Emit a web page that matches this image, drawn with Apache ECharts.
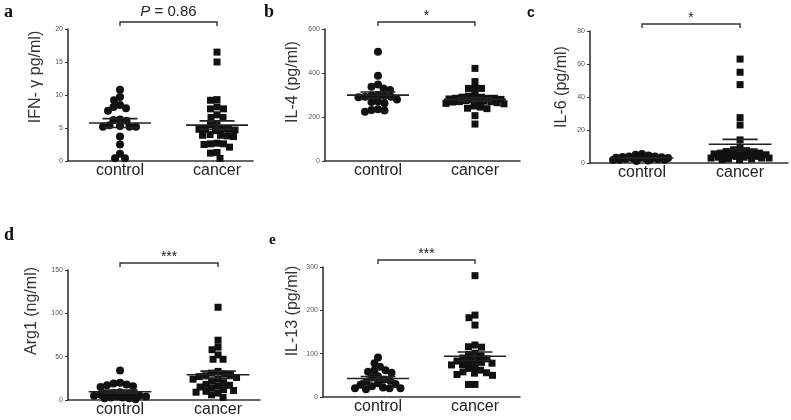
<!DOCTYPE html>
<html><head><meta charset="utf-8">
<script src="https://cdn.jsdelivr.net/npm/echarts@6/dist/echarts.min.js"></script>
<style>html,body{margin:0;padding:0;background:#fff}#c{width:791px;height:420px}</style>
</head><body><div id="c"></div>
<script>
const categories = ['control', 'cancer'];

// a: IFN-gamma
const aControl = [10.8, 9.7, 9.2, 8.5, 8.2, 8.0, 7.6, 6.3, 6.2, 6.1, 5.3, 5.2, 5.2, 5.2, 5.4, 3.7, 2.5, 1.1, 0.4, 0.4];
const aCancer = [16.5, 15.0, 9.3, 9.2, 8.2, 7.9, 7.9, 7.0, 6.6, 6.6, 5.6, 5.5, 4.9, 4.8, 4.8, 4.7, 4.6, 4.8, 4.0, 3.9, 3.8, 3.9, 3.7, 2.7, 2.6, 2.6, 2.5, 2.1, 1.3, 1.2, 0.4];
const aTicks = [0, 5, 10, 15, 20];
// b: IL-4
const bControl = [497, 388, 348, 338, 330, 323, 292, 280, 295, 298, 292, 290, 300, 270, 268, 262, 235, 232, 224, 230];
const bCancer = [421, 361, 330, 330, 330, 295, 290, 285, 282, 280, 285, 290, 275, 270, 280, 272, 265, 260, 268, 275, 285, 240, 250, 238, 245, 206, 168, 300, 270, 262];
const bTicks = [0, 200, 400, 600];
// c: IL-6
const cControl = [1.5, 2, 2.5, 3, 3.5, 4, 4.5, 5, 2, 3, 2.8, 3.2, 1.8, 2.2, 4, 3.6, 2.6, 1.2, 5.5, 3];
const cCancer = [63, 55, 47.5, 27.5, 23, 14, 9, 8, 7.5, 7, 6.5, 6, 6, 5.5, 5, 5, 4.5, 4.5, 4, 4, 4, 3.5, 3.5, 3, 3, 3, 2.5, 2.5, 2, 2];
const cTicks = [0, 20, 40, 60, 80];
// d: Arg1
const dControl = [34, 20, 19, 18, 17, 16, 15, 9, 7, 8, 7, 6, 6, 5, 5, 4, 4, 3, 3, 2, 2, 1];
const dCancer = [107, 69, 61, 58, 52, 47, 47, 33, 31, 30, 29, 28, 27, 26, 24, 24, 22, 20, 18, 17, 16, 15, 14, 12, 11, 10, 9, 8, 6, 3];
const dTicks = [0, 50, 100, 150];
// e: IL-13
const eControl = [91, 78, 70, 62, 62, 56, 58, 48, 45, 40, 38, 35, 32, 30, 28, 25, 22, 20, 20, 20, 18];
const eCancer = [280, 189, 183, 166, 120, 116, 115, 101, 98, 95, 90, 88, 85, 83, 82, 80, 78, 75, 74, 70, 66, 62, 58, 56, 55, 52, 50, 29, 29];
const eTicks = [0, 100, 200, 300];

const panelLetters = ['a', 'b', 'c', 'd', 'e'];
const yTitles = ['IFN- γ pg/ml)', 'IL-4 (pg/ml)', 'IL-6 (pg/ml)', 'Arg1 (ng/ml)', 'IL-13 (pg/ml)'];
const sigTexts = ['{i|P} = 0.86', '*', '*', '***', '***'];

const panelData = [
  [aControl, aCancer, aTicks], [bControl, bCancer, bTicks], [cControl, cCancer, cTicks],
  [dControl, dCancer, dTicks], [eControl, eCancer, eTicks]
];

// layout (pixels) -- styles/positions only
const layout = [
  {left: 68, top: 29, width: 185, height: 132, xmin: 0.464, xmax: 2.371, nameX: 36, nameY: 77, lx: 4, ly: 3, lsize: 18, lfont: 'Liberation Serif', sigGap: 3},
  {left: 325, top: 29, width: 195, height: 132, xmin: 0.454, xmax: 2.464, nameX: 293, nameY: 82, lx: 264, ly: 3, lsize: 18, lfont: 'Liberation Serif', sigGap: -1},
  {left: 590, top: 31, width: 198, height: 132, xmin: 0.469, xmax: 2.489, nameX: 562, nameY: 87, lx: 527, ly: 6, lsize: 14, lfont: 'Liberation Sans', sigGap: -1},
  {left: 68, top: 270, width: 192, height: 130, xmin: 0.469, xmax: 2.428, nameX: 32, nameY: 311, lx: 4, ly: 226, lsize: 18, lfont: 'Liberation Serif', sigGap: -1},
  {left: 323, top: 267, width: 197, height: 130, xmin: 0.433, xmax: 2.464, nameX: 293, nameY: 311, lx: 269, ly: 233, lsize: 15, lfont: 'Liberation Serif', sigGap: -1}
];

function mean(a) { return a.reduce((s, v) => s + v, 0) / a.length; }
function sem(a) {
  const m = mean(a);
  const sd = Math.sqrt(a.reduce((s, v) => s + (v - m) * (v - m), 0) / (a.length - 1));
  return sd / Math.sqrt(a.length);
}
// deterministic beeswarm offsets (in x-axis units), limited to +-maxW px
function swarm(vals, pxY, pxX, d, maxW) {
  const idx = vals.map((v, i) => i).sort((i, j) => vals[j] - vals[i]);
  const placed = [], off = new Array(vals.length);
  const cands = [];
  for (let k = 0; ; k++) {
    const c = (k % 2 === 0 ? 1 : -1) * Math.ceil(k / 2) * 0.5;
    if (Math.abs(c) > maxW) break;
    cands.push(c);
  }
  for (const i of idx) {
    const y = vals[i] * pxY;
    let best = null, bestScore = -1;
    for (const c of cands) {
      let mn = Infinity;
      for (const p of placed) mn = Math.min(mn, Math.hypot(p.x - c, p.y - y));
      if (mn >= d) { best = c; break; }
      if (mn > bestScore + 0.01) { bestScore = mn; best = c; }
    }
    placed.push({x: best, y});
    off[i] = best / pxX;
  }
  return off;
}

const INK = '#111';
const grids = [], xAxes = [], yAxes = [], series = [], graphics = [];

panelData.forEach(([ctrl, canc, ticks], i) => {
  const L = layout[i];
  const ymax = ticks[ticks.length - 1];
  grids.push({left: L.left, top: L.top, width: L.width, height: L.height});
  xAxes.push({
    type: 'value', gridIndex: i, min: L.xmin, max: L.xmax,
    splitLine: {show: false}, axisTick: {show: false},
    axisLine: {show: true, onZero: false, lineStyle: {color: '#333', width: 1.6}},
    axisLabel: {
      customValues: [1, 2], margin: 2, fontSize: 16, color: '#222',
      fontFamily: 'Liberation Sans, Arial',
      formatter: v => categories[Math.round(v) - 1] || ''
    }
  });
  yAxes.push({
    type: 'value', gridIndex: i, min: ticks[0], max: ymax, interval: ticks[1] - ticks[0],
    splitLine: {show: false},
    axisLine: {show: true, lineStyle: {color: '#333', width: 1.6}},
    axisTick: {show: true, length: 3, lineStyle: {color: '#333', width: 1}},
    axisLabel: {fontSize: 7, color: '#555', margin: 5, fontFamily: 'Liberation Sans, Arial'}
  });
  const pxY = L.height / ymax, pxX = L.width / (L.xmax - L.xmin);
  const oc = swarm(ctrl, pxY, pxX, 6.5, 29);
  const on = swarm(canc, pxY, pxX, 6.5, 29);
  series.push({
    type: 'scatter', xAxisIndex: i, yAxisIndex: i, symbol: 'circle', symbolSize: 8,
    itemStyle: {color: INK, opacity: 1}, silent: true,
    data: ctrl.map((v, j) => [1 + oc[j], v])
  });
  series.push({
    type: 'scatter', xAxisIndex: i, yAxisIndex: i, symbol: 'rect', symbolSize: 7,
    itemStyle: {color: INK, opacity: 1}, silent: true,
    data: canc.map((v, j) => [2 + on[j], v])
  });
  series.push({
    type: 'custom', xAxisIndex: i, yAxisIndex: i, z: 5, silent: true,
    encode: {x: 0, y: 1},
    data: [[1, mean(ctrl), sem(ctrl)], [2, mean(canc), sem(canc)]],
    renderItem: (params, api) => {
      const c = api.value(0), m = api.value(1), s = api.value(2);
      const A = api.coord([c - 0.32, m]), B = api.coord([c + 0.32, m]);
      const uA = api.coord([c - 0.18, m + s]), uB = api.coord([c + 0.18, m + s]);
      const dA = api.coord([c - 0.18, m - s]), dB = api.coord([c + 0.18, m - s]);
      const st = {stroke: '#222', lineWidth: 1.6};
      const cx = (uA[0] + uB[0]) / 2;
      return {type: 'group', children: [
        {type: 'line', shape: {x1: A[0], y1: A[1], x2: B[0], y2: B[1]}, style: st},
        {type: 'line', shape: {x1: uA[0], y1: uA[1], x2: uB[0], y2: uB[1]}, style: st},
        {type: 'line', shape: {x1: dA[0], y1: dA[1], x2: dB[0], y2: dB[1]}, style: st},
        {type: 'line', shape: {x1: cx, y1: uA[1], x2: cx, y2: dA[1]}, style: st}
      ]};
    }
  });
  const sig = sigTexts[i], gap = L.sigGap;
  series.push({
    type: 'custom', xAxisIndex: i, yAxisIndex: i, z: 5, silent: true, clip: false,
    encode: {x: 0, y: 2},
    data: [[1, 2, ymax]],
    renderItem: (params, api) => {
      const p1 = api.coord([api.value(0), api.value(2)]);
      const p2 = api.coord([api.value(1), api.value(2)]);
      const y = p1[1] - 7;
      return {type: 'group', children: [
        {type: 'polyline', shape: {points: [[p1[0], y + 4], [p1[0], y], [p2[0], y], [p2[0], y + 4]]},
          style: {stroke: '#333', lineWidth: 1.4, fill: null}},
        {type: 'text', x: (p1[0] + p2[0]) / 2, y: y - gap,
          style: {text: sig, fontSize: sig.indexOf('P') >= 0 ? 15 : 14, fontFamily: 'Liberation Sans, Arial',
            fill: '#222', align: 'center', verticalAlign: 'bottom',
            rich: {i: {fontStyle: 'italic', fontSize: 15, fontFamily: 'Liberation Sans, Arial', fill: '#222'}}}}
      ]};
    }
  });
  graphics.push({type: 'text', x: L.nameX, y: L.nameY, rotation: Math.PI / 2,
    style: {text: yTitles[i], fontSize: 16, fontFamily: 'Liberation Sans, Arial', fill: '#333',
      align: 'center', verticalAlign: 'middle'}});
  graphics.push({type: 'text', x: L.lx, y: L.ly,
    style: {text: panelLetters[i], fontSize: L.lsize, fontWeight: 'bold', fontFamily: L.lfont, fill: '#111',
      align: 'left', verticalAlign: 'top'}});
});

const chart = echarts.init(document.getElementById('c'), null, {renderer: 'canvas'});
chart.setOption({
  animation: false,
  backgroundColor: '#fff',
  grid: grids, xAxis: xAxes, yAxis: yAxes, series: series,
  graphic: graphics
});
</script></body></html>
